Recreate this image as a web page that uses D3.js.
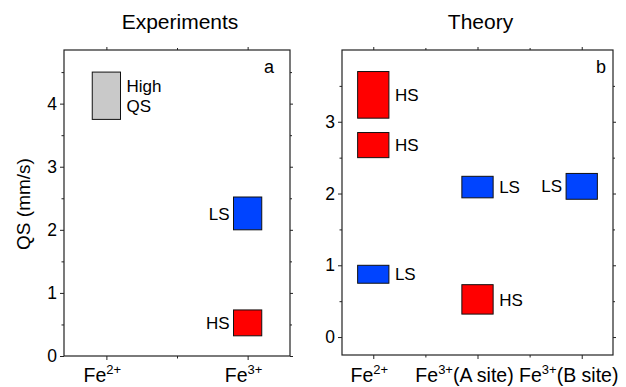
<!DOCTYPE html>
<html>
<head>
<meta charset="utf-8">
<script src="https://cdn.jsdelivr.net/npm/d3@7"></script>
<style>
  body { margin: 0; background: #fff; }
  text { font-family: "Liberation Sans", Arial, sans-serif; fill: #000; }
</style>
</head>
<body>
<svg id="chart" width="626" height="387"></svg>
<script>
// ---- panel a: experiments ----
const expCharge = ["2+", "3+"];
const expSuffix = ["", ""];
const expSite = [0, 1, 1];
const expLo = [3.75, 2.0, 0.32];
const expHi = [4.5, 2.52, 0.73];
const expSpin = ["high", "LS", "HS"];
const expText = [["High", "QS"], ["LS"], ["HS"]];
const expYTicks = [0, 1, 2, 3, 4];

// ---- panel b: theory ----
const thCharge = ["2+", "3+", "3+"];
const thSuffix = ["", "(A site)", "(B site)"];
const thSite = [0, 0, 0, 1, 1, 2];
const thLo = [3.05, 2.5, 0.75, 1.94, 0.32, 1.92];
const thHi = [3.7, 2.85, 1.0, 2.24, 0.73, 2.28];
const thSpin = ["HS", "HS", "LS", "LS", "HS", "LS"];
const thText = [["HS"], ["HS"], ["LS"], ["LS"], ["HS"], ["LS"]];
const thYTicks = [0, 1, 2, 3];

const spinColor = { HS: "#ff0000", LS: "#0044ff", high: "#c9c9c9" };

const svg = d3.select("#chart");

function drawPanel(p) {
  const x = d3.scaleLinear().domain(p.xDomain).range([p.left, p.right]);
  const y = d3.scaleLinear().domain(p.yDomain).range([p.bottom, p.top]);
  const g = svg.append("g");
  const nCat = p.charge.length;
  const catPos = d3.range(1, nCat + 1);
  const catMinor = d3.range(1.5, nCat, 1);
  const yMinor = d3.range(Math.ceil(p.yDomain[0]) + 0.5, p.yDomain[1], 1);

  // frame
  g.append("rect")
    .attr("x", p.left).attr("y", p.top)
    .attr("width", p.right - p.left).attr("height", p.bottom - p.top)
    .attr("fill", "none").attr("stroke", "#222").attr("stroke-width", 1.2);

  const tidy = sel => { sel.select(".domain").remove(); sel.selectAll("line").attr("stroke", "#222"); };

  // left axis
  g.append("g").attr("transform", `translate(${p.left},0)`)
    .call(d3.axisLeft(y).tickValues(p.yTicks).tickSize(4).tickPadding(3).tickFormat(d3.format("d")))
    .call(tidy)
    .call(s => s.selectAll("text").attr("font-size", 17.5).attr("font-family", null));
  g.append("g").attr("transform", `translate(${p.left},0)`)
    .call(d3.axisLeft(y).tickValues(yMinor).tickSize(2.5).tickFormat(""))
    .call(tidy);
  // right mirror
  g.append("g").attr("transform", `translate(${p.right},0)`)
    .call(d3.axisRight(y).tickValues(p.yTicks).tickSize(3).tickFormat(""))
    .call(tidy);
  g.append("g").attr("transform", `translate(${p.right},0)`)
    .call(d3.axisRight(y).tickValues(yMinor).tickSize(2).tickFormat(""))
    .call(tidy);
  // bottom axis
  g.append("g").attr("transform", `translate(0,${p.bottom})`)
    .call(d3.axisBottom(x).tickValues(catPos).tickSize(4).tickFormat(""))
    .call(tidy);
  g.append("g").attr("transform", `translate(0,${p.bottom})`)
    .call(d3.axisBottom(x).tickValues(catMinor).tickSize(2.5).tickFormat(""))
    .call(tidy);
  // top mirror
  g.append("g").attr("transform", `translate(0,${p.top})`)
    .call(d3.axisTop(x).tickValues(catPos).tickSize(3).tickFormat(""))
    .call(tidy);
  g.append("g").attr("transform", `translate(0,${p.top})`)
    .call(d3.axisTop(x).tickValues(catMinor).tickSize(2).tickFormat(""))
    .call(tidy);

  // category labels with superscript charge (nudged left like the original)
  catPos.forEach((c, i) => {
    const t = g.append("text")
      .attr("x", x(c)).attr("y", 382)
      .attr("dx", p.suffix[i] ? -13 : -4)
      .attr("text-anchor", "middle").attr("font-size", 19.5);
    t.append("tspan").text("Fe");
    t.append("tspan").attr("dy", -8).attr("font-size", 13).text(p.charge[i]);
    t.append("tspan").attr("dy", 8).text(p.suffix[i]);
  });

  // boxes
  p.site.forEach((s, i) => {
    const x0 = x(s + 1 - p.half), x1 = x(s + 1 + p.half);
    g.append("rect")
      .attr("x", x0).attr("y", y(p.hi[i]))
      .attr("width", x1 - x0).attr("height", y(p.lo[i]) - y(p.hi[i]))
      .attr("fill", spinColor[p.spin[i]])
      .attr("stroke", "#111").attr("stroke-width", 1);

    const onLeft = s === nCat - 1;
    const lines = p.text[i];
    const midY = (y(p.hi[i]) + y(p.lo[i])) / 2;
    const lh = 20;
    lines.forEach((ln, k) => {
      g.append("text")
        .attr("x", onLeft ? x0 - 4 : x1 + 6)
        .attr("y", midY + (k - (lines.length - 1) / 2) * lh)
        .attr("dy", "0.36em")
        .attr("text-anchor", onLeft ? "end" : "start")
        .attr("font-size", 17)
        .text(ln);
    });
  });

  // panel letter
  g.append("text").attr("x", p.right - p.letterInset).attr("y", p.top + 23)
    .attr("text-anchor", "end").attr("font-size", 18).text(p.letter);

  // title
  g.append("text").attr("x", (p.left + p.right) / 2 + 3).attr("y", 29)
    .attr("text-anchor", "middle").attr("font-size", 21).text(p.title);
}

drawPanel({
  title: "Experiments", letter: "a", letterInset: 16,
  left: 64, right: 290, top: 50, bottom: 356,
  xDomain: [0.7, 2.3], yDomain: [0, 4.85], half: 0.1,
  charge: expCharge, suffix: expSuffix, yTicks: expYTicks,
  site: expSite, lo: expLo, hi: expHi, spin: expSpin, text: expText
});

drawPanel({
  title: "Theory", letter: "b", letterInset: 7,
  left: 342, right: 613, top: 50, bottom: 355,
  xDomain: [0.7, 3.3], yDomain: [-0.25, 4], half: 0.15,
  charge: thCharge, suffix: thSuffix, yTicks: thYTicks,
  site: thSite, lo: thLo, hi: thHi, spin: thSpin, text: thText
});

// y axis title
svg.append("text")
  .attr("transform", "translate(30,204) rotate(-90)")
  .attr("text-anchor", "middle").attr("font-size", 19)
  .text("QS (mm/s)");
</script>
</body>
</html>
